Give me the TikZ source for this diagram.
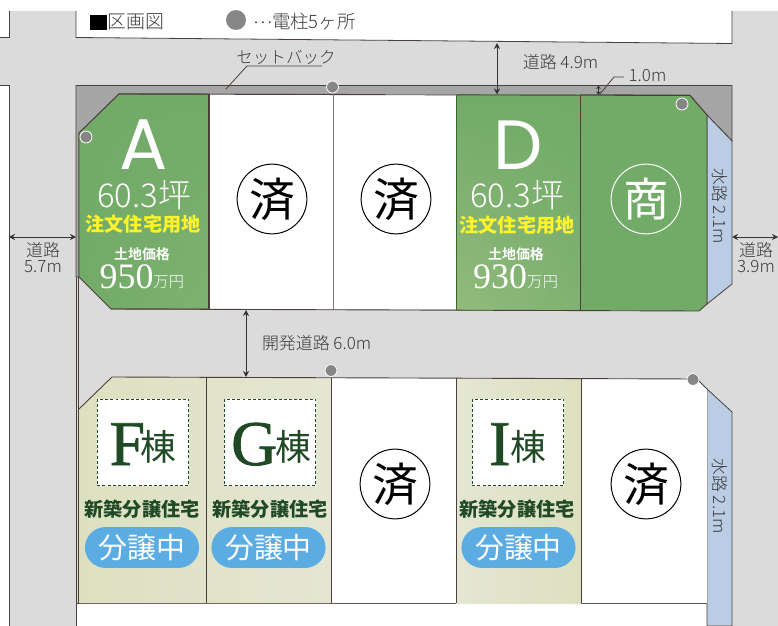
\documentclass[tikz,border=0pt]{standalone}
\usepackage{fontspec}
\usetikzlibrary{arrows.meta,shapes.misc,shadings}
\setmainfont{Liberation Serif}
\newfontfamily\demi[FakeBold=1.2]{Liberation Serif}
\newfontfamily\jpl[UprightFont=* Light]{Noto Sans CJK JP}
\newfontfamily\jpb[UprightFont=* Bold]{Noto Sans CJK JP}
\newfontfamily\jpk[UprightFont=* Black]{Noto Sans CJK JP}
\newfontfamily\jpr{Noto Sans CJK JP}
\newfontfamily\pop{Poppins}
\definecolor{road}{HTML}{DBDBDB}
\definecolor{setb}{HTML}{A6A6A6}
\definecolor{edge}{HTML}{4A3F3A}
\definecolor{lgreen}{HTML}{72AA67}
\definecolor{lgreenb}{HTML}{7FB272}
\definecolor{lgreenc}{HTML}{92BB7C}
\definecolor{bldg}{HTML}{DDE0C0}
\definecolor{bldgb}{HTML}{E4E6D2}
\definecolor{water}{HTML}{BBCDE4}
\definecolor{dgreen}{HTML}{1F4A25}
\definecolor{pill}{HTML}{5AACE3}
\definecolor{ink}{HTML}{3A3A3A}
\definecolor{yel}{HTML}{FFF32A}
\newcommand{\fs}[1]{\fontsize{#1}{#1}\selectfont}
\tikzset{
  lbl/.style={inner sep=0pt,outer sep=0pt,text=ink,align=center,font=\jpl\fs{17}},
  lotline/.style={draw=edge,line width=0.9pt},
  pole/.style={circle,fill=gray!95,draw=white,line width=0.8pt,minimum size=12pt,inner sep=0pt},
  dim/.style={{Stealth[length=6pt,width=6pt]}-{Stealth[length=6pt,width=6pt]},line width=0.9pt,draw=black!80},
  stamp/.style={circle,draw=black,line width=1pt,fill=white,minimum size=70pt,inner sep=0pt,font=\jpr\fs{46}},
  wstamp/.style={circle,draw=white,line width=1pt,minimum size=70pt,inner sep=0pt,text=white,font=\jpr\fs{46}},
  wht/.style={inner sep=0pt,text=white},
  bigl/.style={inner sep=0pt,text=white,anchor=base,text height=50pt,text depth=0pt},
  tag/.style={inner sep=0pt,text=yel,font=\jpk\fs{19.2}},
  kind/.style={inner sep=0pt,text=dgreen,font=\jpk\fs{19.2}},
  dashbox/.style={draw=dgreen,line width=1.1pt,dash pattern=on 3pt off 2.2pt,fill=white},
  pillbox/.style={rounded rectangle,fill=pill,minimum width=114.5pt,minimum height=41pt,inner sep=0pt,text=white,font=\jpr\fs{29}},
  blet/.style={inner sep=0pt,text=dgreen,font=\demi\fs{64}},
  bkan/.style={inner sep=0pt,text=dgreen,font=\jpr\fs{36}},
}
\begin{document}
\begin{tikzpicture}[x=1bp,y=-1bp]
\useasboundingbox (0,0) rectangle (778,626);
% background
\fill[white] (0,0) rectangle (778,626);
\fill[road] (0,11) rectangle (778,626);
% surrounding blocks
\fill[white] (0,11) rectangle (9,37);
\draw[edge,line width=0.8pt] (9,11) -- (9,37) -- (0,37);
\fill[white] (76,11) -- (732,11) -- (732,43.5) -- (76,37.5) -- cycle;
\draw[edge,line width=0.8pt] (76,11) -- (76,37.5) -- (732,43.5) -- (732,11);
\fill[white] (0,85) rectangle (9,626);
\draw[edge,line width=0.8pt] (0,85) -- (9,85) -- (9,626);
\fill[white] (76,603) rectangle (707,626);
\draw[edge,line width=0.8pt] (76,626) -- (76,85);
\draw[edge,line width=0.8pt] (78.7,277) -- (78.7,603);
\draw[edge,line width=0.8pt] (76,603) -- (707,603);
% setback
\filldraw[fill=setb,draw=edge,line width=0.8pt] (76,85.5) -- (732,85.5) -- (732,141) -- (707,115) -- (690,95) -- (119,94) -- (79,133) -- (79,277) -- (76,277) -- cycle;
% water
\filldraw[fill=water,draw=edge,line width=0.8pt] (707,115) -- (732,141) -- (732,284) -- (707,304) -- cycle;
\filldraw[fill=water,draw=edge,line width=0.8pt] (707,389) -- (732,412) -- (732,626) -- (707,626) -- cycle;
% top row lots
\begin{scope}
\clip (119,94) -- (209,94) -- (209,309) -- (111,309) -- (79,277) -- (79,133) -- cycle;
\shade[upper left=lgreen,upper right=lgreen,lower left=lgreen,lower right=lgreenb] (79,94) rectangle (209,309);
\end{scope}
\draw[lotline] (209,94) -- (119,94) -- (79,133) -- (79,277) -- (111,309) -- (209,309);
\fill[white] (209,94) rectangle (456.5,309);
\begin{scope}
\clip (456.5,95) rectangle (580,310);
\shade[upper left=lgreen,upper right=lgreen,lower left=lgreenc,lower right=lgreenb] (456.5,95) rectangle (580,310);
\end{scope}
\fill[lgreen] (580,95) -- (690,95) -- (707,115) -- (707,304) -- (699,311) -- (580,310) -- cycle;
\draw[lotline] (119,94) -- (690,95.5) -- (707,115) -- (707,304) -- (699,311) -- (111,309);
\draw[lotline,line width=1.1pt] (209,94) -- (209,309);
\draw[lotline,draw=edge!70] (333,94) -- (333,309);
\draw[lotline,draw=edge!80!green,line width=0.6pt] (456.5,95) -- (456.5,310);
\draw[lotline,line width=1.1pt] (580.5,95) -- (580.5,310);
% bottom row lots
\fill[white] (112,377) -- (697,379) -- (707,389) -- (707,603) -- (79,603) -- (79,409) -- cycle;
\begin{scope}
\clip (112,377) -- (331,378) -- (331,603) -- (79,603) -- (79,409) -- cycle;
\shade[left color=bldg,right color=bldgb] (79,377) rectangle (331,603);
\end{scope}
\shade[left color=bldgb,right color=bldg] (456,378) rectangle (581,603);
\draw[lotline] (79,409) -- (112,377) -- (697,379) -- (707,389);
\draw[lotline] (206.5,377) -- (206.5,603);
\draw[lotline] (331,378) -- (331,603);
\draw[lotline] (456,378) -- (456,603);
\draw[lotline] (581,379) -- (581,603);
% poles
\node[pole] (p1) at (332.5,87) {};
\node[pole] (p2) at (86,137) {};
\node[pole] (p3) at (682,104) {};
\node[pole] (p4) at (331,370.5) {};
\node[pole] (p5) at (693,379.5) {};
% legend
\fill[black] (90,15) rectangle (107,30);
\node[lbl,anchor=west,font=\jpl\fs{19}] (lg1) at (107.5,21.5) {区画図};
\node[circle,fill=gray!95,minimum size=20pt,inner sep=0pt] (lgp) at (236,20) {};
\node[lbl,anchor=west,font=\jpl\fs{18.5}] (lg2) at (253,21) {\raisebox{5pt}{…}電柱5ヶ所};
% dims
\coordinate (a1) at (497,43); \coordinate (a2) at (497,94.5);
\draw[dim] (a1) -- (a2);
\coordinate (b1) at (598.5,85.5); \coordinate (b2) at (598.5,95);
\draw[{Stealth[length=3.5pt,width=4.5pt]}-{Stealth[length=3.5pt,width=4.5pt]},line width=0.8pt,black!80] (b1) -- (b2);
\coordinate (c1) at (9,237); \coordinate (c2) at (76,237);
\draw[dim] (c1) -- (c2);
\coordinate (d1) at (732,237); \coordinate (d2) at (778,237);
\draw[dim] (d1) -- (d2);
\coordinate (e1) at (246,310); \coordinate (e2) at (246,377);
\draw[dim] (e1) -- (e2);
% leaders
\coordinate (s1) at (226,89); \coordinate (s2) at (247,66); \coordinate (s3) at (322,66);
\draw[edge,line width=0.8pt] (s1) -- (s2) -- (s3);
\coordinate (t1) at (600,94); \coordinate (t2) at (614,77); \coordinate (t3) at (624,77);
\draw[edge,line width=0.8pt] (t1) -- (t2) -- (t3);
% labels
\node[lbl,font=\jpl\fs{16.6}] (sb) at (286,57) {セットバック};
\node[lbl] (r49) at (560.5,62) {道路 4.9m};
\node[lbl] (r10) at (647.5,76) {1.0m};
\node[lbl] (r57) at (43,257.5) {道路\\[-1pt]5.7m};
\node[lbl] (r39) at (756,257.5) {道路\\[-1pt]3.9m};
\node[lbl,anchor=west] (r60) at (262,343) {開発道路 6.0m};
\node[lbl,rotate=-90] (w1) at (720,206) {水路 2.1m};
\node[lbl,rotate=-90] (w2) at (720,496) {水路 2.1m};
% A
\node[bigl,font=\pop\fs{72}] (A) at (144,170) {A};
\node[wht,font=\jpl\fs{33}] (A2) at (144,195) {60.3坪};
\node[tag] (A3) at (143,224) {注文住宅用地};
\node[wht,font=\jpb\fs{14}] (A4) at (142,254) {土地価格};
\node[wht,anchor=base west,font=\fs{36}] (A5) at (99.5,288) {950};
\node[wht,anchor=base west,font=\jpl\fs{15.5}] (A6) at (153,287) {万円};
% D
\node[bigl,font=\pop\fs{70}] (D) at (518.5,170) {D};
\node[wht,font=\jpl\fs{33}] (D2) at (517,195) {60.3坪};
\node[tag] (D3) at (517,225) {注文住宅用地};
\node[wht,font=\jpb\fs{14}] (D4) at (516,254) {土地価格};
\node[wht,anchor=base west,font=\fs{36}] (D5) at (473,288) {930};
\node[wht,anchor=base west,font=\jpl\fs{15.5}] (D6) at (527,287) {万円};
% stamps
\node[stamp] (st1) at (272,199) {済};
\node[stamp] (st2) at (396,199) {済};
\node[wstamp] (st3) at (646,199) {商};
\node[stamp] (st4) at (395,484) {済};
\node[stamp] (st5) at (646,484) {済};
% F
\node[dashbox,minimum width=92pt,minimum height=87pt,inner sep=0pt] (fb) at (143,442.5) {};
\node[blet,anchor=base west] (fl) at (109.5,465) {\makebox[30pt][l]{F}};
\node[bkan] (fk) at (158.5,447) {棟};
\node[kind] (fn) at (142,509) {新築分譲住宅};
\node[pillbox] (fp) at (142,547.5) {分譲中};
% G
\node[dashbox,minimum width=92pt,minimum height=87pt,inner sep=0pt] (gb) at (270,442.5) {};
\node[blet,anchor=base west] (gl) at (231,465) {G};
\node[bkan] (gk) at (293,447) {棟};
\node[kind] (gn) at (270,509) {新築分譲住宅};
\node[pillbox] (gp) at (268.5,547.5) {分譲中};
% I
\node[dashbox,minimum width=92pt,minimum height=87pt,inner sep=0pt] (ib) at (518,442.5) {};
\node[blet,anchor=base west] (il) at (489,465) {I};
\node[bkan] (ik) at (528.5,447) {棟};
\node[kind] (in1) at (517,509) {新築分譲住宅};
\node[pillbox] (ip) at (518.5,547.5) {分譲中};
\end{tikzpicture}
\end{document}
